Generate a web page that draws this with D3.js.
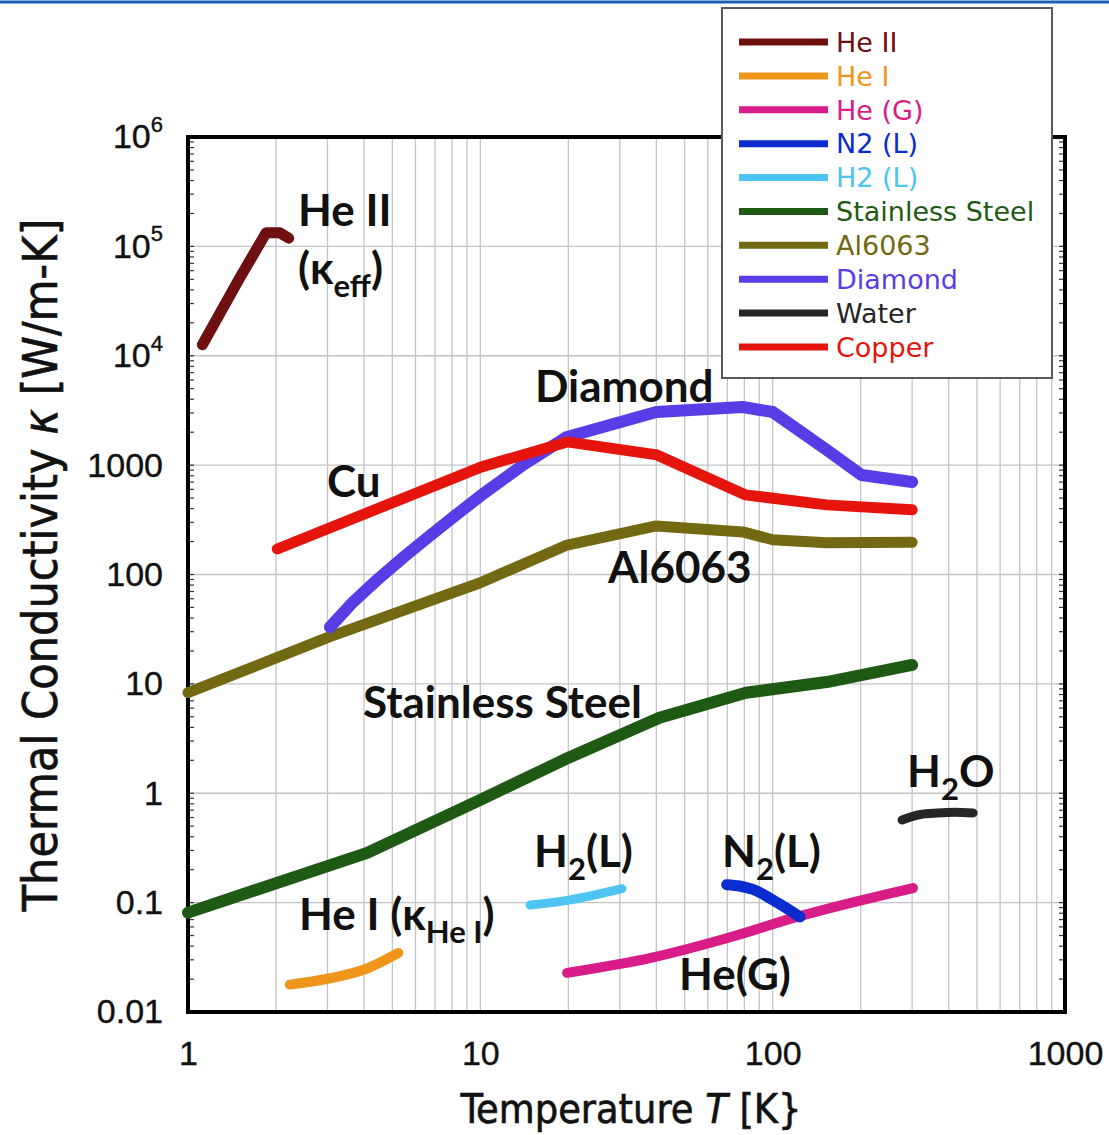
<!DOCTYPE html>
<html>
<head>
<meta charset="utf-8">
<script src="https://cdn.jsdelivr.net/npm/d3@7"></script>
<style>
  body { margin: 0; background: #fff; }
  svg { display: block; }
</style>
</head>
<body>
<svg id="chart" width="1109" height="1135"></svg>
<script>
// ---- data: temperature T [K], thermal conductivity κ [W/m-K] ----
const temperatureTicks = [1, 10, 100, 1000];
const conductivityTicks = [1e6, 1e5, 1e4, 1000, 100, 10, 1, 0.1, 0.01];

const seriesNames = ["He II", "He I", "He (G)", "N2 (L)", "H2 (L)",
                     "Stainless Steel", "Al6063", "Diamond", "Water", "Copper"];

const heII      = [[1.12, 1.26e4], [1.5, 5.1e4], [1.85, 1.33e5], [2.06, 1.33e5], [2.21, 1.19e5]];
const heI       = [[2.23, 0.0178], [3.14, 0.0206], [4.1, 0.025], [5.24, 0.0347]];
const heGas     = [[19.8, 0.0228], [39, 0.0316], [73, 0.049], [121, 0.074], [302, 0.136]];
const n2Liquid  = [[69.6, 0.146], [77, 0.142], [85.6, 0.132], [105, 0.098], [124, 0.074]];
const h2Liquid  = [[14.8, 0.095], [20.3, 0.106], [30.5, 0.134]];
const stainless = [[1, 0.081], [4.1, 0.285], [10, 0.87], [20.3, 2.15], [41, 4.9], [81, 8.3], [153, 10.4], [300, 14.9]];
const al6063    = [[1, 8.3], [3.06, 27], [10, 84], [19.8, 186], [40, 278], [79, 245], [100, 208], [153, 195], [300, 197]];
const diamond   = [[3.06, 33], [3.67, 56], [4.43, 89], [5.53, 148], [6.73, 227], [8.19, 344], [10, 523], [14, 1004],
                   [19.8, 1811], [40, 3060], [79, 3400], [100, 3060], [153, 1377], [201, 813], [300, 702]];
const water     = [[277, 0.57], [320, 0.64], [366, 0.66], [420, 0.67], [485, 0.66]];
const copper    = [[2.02, 171], [10.1, 964], [19.8, 1630], [40.2, 1240], [80.5, 535], [153, 433], [300, 390]];

const seriesData = [heII, heI, heGas, n2Liquid, h2Liquid, stainless, al6063, diamond, water, copper];

// ---- styles ----
const seriesColors = ["#6e1010", "#f0951c", "#d81c88", "#0b2ccf", "#4dc4f2",
                      "#1f5a15", "#736912", "#5a3ce6", "#262626", "#e5140d"];
const seriesWidths = [11, 10, 10, 11, 9, 12, 11, 12, 9, 11];
const smoothSeries = new Set(["He I", "He (G)", "N2 (L)", "H2 (L)", "Water"]);
// drawing order (indices into seriesNames), later = on top
const drawOrder = [5, 6, 7, 9, 0, 1, 2, 3, 4, 8];

const W = 1109, H = 1135;
const svg = d3.select("#chart");

const x = d3.scaleLog().domain([1, 1000]).range([188, 1065]);
const y = d3.scaleLog().domain([0.01, 1e6]).range([1012, 137]);
const [x0, x1] = x.range();
const [y0, y1] = y.range(); // y0 bottom, y1 top

// top rule
svg.append("line")
  .attr("x1", 0).attr("x2", W).attr("y1", 2).attr("y2", 2)
  .attr("stroke", "#1b5fb0").attr("stroke-width", 3);

// ---- grid ----
const grid = svg.append("g").attr("stroke", "#c4c4c4").attr("stroke-width", 1.3);
grid.selectAll("line.v").data(x.ticks()).join("line").attr("class", "v")
  .attr("x1", d => x(d)).attr("x2", d => x(d))
  .attr("y1", y1).attr("y2", y0);
grid.selectAll("line.h").data(conductivityTicks).join("line").attr("class", "h")
  .attr("x1", x0).attr("x2", x1)
  .attr("y1", d => y(d)).attr("y2", d => y(d));

// small inner ticks along the left and right edges
const minorY = y.ticks(10);
const ticksG = svg.append("g").attr("stroke", "#333").attr("stroke-width", 1.2);
ticksG.selectAll("line.l").data(minorY).join("line").attr("class", "l")
  .attr("x1", x0).attr("x2", x0 + 6).attr("y1", d => y(d)).attr("y2", d => y(d));
ticksG.selectAll("line.r").data(minorY).join("line").attr("class", "r")
  .attr("x1", x1 - 6).attr("x2", x1).attr("y1", d => y(d)).attr("y2", d => y(d));

// ---- frame ----
svg.append("rect")
  .attr("x", x0).attr("y", y1).attr("width", x1 - x0).attr("height", y0 - y1)
  .attr("fill", "none").attr("stroke", "#000").attr("stroke-width", 4);

// ---- axes ----
const tickFont = "'Liberation Sans', Arial, sans-serif";

const xAxis = svg.append("g")
  .attr("transform", `translate(0,${y0})`)
  .call(d3.axisBottom(x).tickValues(temperatureTicks).tickSize(0).tickPadding(29)
        .tickFormat(d3.format("d")));
xAxis.select(".domain").remove();
xAxis.selectAll("text")
  .attr("font-family", tickFont).attr("font-size", 34).attr("fill", "#111")
  .attr("stroke", "#111").attr("stroke-width", 0.4);

const yAxis = svg.append("g")
  .attr("transform", `translate(${x0},0)`)
  .call(d3.axisLeft(y).tickValues(conductivityTicks).tickSize(0).tickPadding(25)
        .tickFormat(d => d >= 1e4 ? "" : (d >= 1 ? d3.format("d")(d) : String(d))));
yAxis.select(".domain").remove();
yAxis.selectAll("text")
  .attr("font-family", tickFont).attr("font-size", 34).attr("fill", "#111")
  .attr("stroke", "#111").attr("stroke-width", 0.4)
  .each(function(d) {
    if (d >= 1e4) {
      const t = d3.select(this);
      t.append("tspan").text("10");
      t.append("tspan").text(Math.round(Math.log10(d)))
        .attr("font-size", 22).attr("dy", "-0.75em");
    }
  });

// axis titles
const titleFont = "'DejaVu Sans Condensed', 'DejaVu Sans', sans-serif";
const yTitle = svg.append("text")
  .attr("transform", `translate(57,565) rotate(-90)`)
  .attr("text-anchor", "middle")
  .attr("font-family", titleFont).attr("font-size", 48).attr("fill", "#111")
  .attr("stroke", "#111").attr("stroke-width", 0.6);
yTitle.append("tspan").text("Thermal Conductivity ");
yTitle.append("tspan").text("κ").attr("font-style", "italic");
yTitle.append("tspan").text(" [W/m-K]");

const xTitle = svg.append("text")
  .attr("x", 631).attr("y", 1123)
  .attr("text-anchor", "middle")
  .attr("font-family", titleFont).attr("font-size", 41).attr("fill", "#111")
  .attr("stroke", "#111").attr("stroke-width", 0.6);
xTitle.append("tspan").text("Temperature ");
xTitle.append("tspan").text("T").attr("font-style", "italic");
xTitle.append("tspan").text(" [K}");

// ---- curves ----
const curvesG = svg.append("g").attr("fill", "none")
  .attr("stroke-linecap", "round").attr("stroke-linejoin", "round");
drawOrder.forEach(i => {
  const line = d3.line()
    .x(d => x(d[0])).y(d => y(d[1]))
    .curve(smoothSeries.has(seriesNames[i]) ? d3.curveMonotoneX : d3.curveLinear);
  curvesG.append("path")
    .attr("d", line(seriesData[i]))
    .attr("stroke", seriesColors[i])
    .attr("stroke-width", seriesWidths[i]);
});

// ---- in-plot labels ----
const labelFont = "Lato, 'Open Sans', sans-serif";
function label(xp, yp, parts) {
  const t = svg.append("text").attr("x", xp).attr("y", yp)
    .attr("font-family", labelFont).attr("font-weight", 700)
    .attr("font-size", 44).attr("fill", "#111");
  let shift = 0;
  parts.forEach(p => {
    const s = t.append("tspan").text(p.t);
    const want = p.sub ? 13 : 0;
    if (want !== shift) { s.attr("dy", want - shift); shift = want; }
    if (p.sub) s.attr("font-size", 31);
  });
  return t;
}
label(298, 226, [{t: "He II"}]);
label(298, 284, [{t: "(κ"}, {t: "eff", sub: true}, {t: ")"}]);
label(535, 402, [{t: "Diamond"}]);
label(327, 497, [{t: "Cu"}]);
label(608, 583, [{t: "Al6063"}]);
label(363, 718, [{t: "Stainless Steel"}]);
label(907, 787, [{t: "H"}, {t: "2", sub: true}, {t: "O"}]);
label(534, 867, [{t: "H"}, {t: "2", sub: true}, {t: "(L)"}]);
label(722, 867, [{t: "N"}, {t: "2", sub: true}, {t: "(L)"}]);
label(299, 930, [{t: "He I (κ"}, {t: "He I", sub: true}, {t: ")"}]);
label(679, 990, [{t: "He(G)"}]);

// ---- legend ----
const legend = svg.append("g");
legend.append("rect")
  .attr("x", 722).attr("y", 8).attr("width", 330).attr("height", 370)
  .attr("fill", "#fff").attr("stroke", "#5a5a5a").attr("stroke-width", 2);
const legendY = d3.scalePoint().domain(seriesNames).range([42, 347]);
const rows = legend.selectAll("g.row").data(seriesNames).join("g").attr("class", "row")
  .attr("transform", d => `translate(0,${legendY(d)})`);
rows.append("line")
  .attr("x1", 739).attr("x2", 828).attr("y1", 0).attr("y2", 0)
  .attr("stroke", (d, i) => seriesColors[i]).attr("stroke-width", 7);
rows.append("text")
  .attr("x", 836).attr("y", 0).attr("dy", "0.36em")
  .attr("font-family", "'DejaVu Sans', Verdana, sans-serif").attr("font-size", 27)
  .attr("fill", (d, i) => seriesColors[i])
  .text(d => d);
</script>
</body>
</html>
